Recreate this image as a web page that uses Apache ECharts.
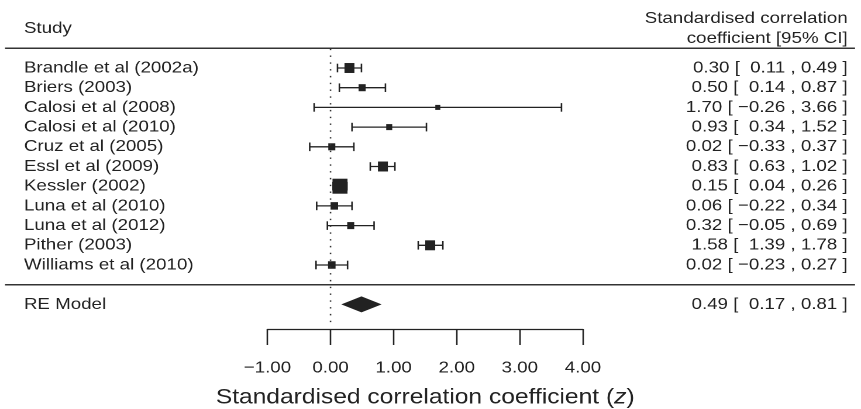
<!DOCTYPE html>
<html>
<head>
<meta charset="utf-8">
<script src="https://cdn.jsdelivr.net/npm/echarts@6/dist/echarts.min.js"></script>
<style>
html,body{margin:0;padding:0;background:#fff;overflow:hidden;}
#wrap{width:736px;height:409px;transform:scaleX(1.16984);transform-origin:0 0;}
#chart{width:736px;height:409px;}
</style>
</head>
<body>
<div id="wrap"><div id="chart"></div></div>
<script>
// ---- data ----
const studies = ["Brandle et al (2002a)","Briers (2003)","Calosi et al (2008)","Calosi et al (2010)","Cruz et al (2005)","Essl et al (2009)","Kessler (2002)","Luna et al (2010)","Luna et al (2012)","Pither (2003)","Williams et al (2010)"];
const est = [0.30,0.50,1.70,0.93,0.02,0.83,0.15,0.06,0.32,1.58,0.02];
const lo  = [0.11,0.14,-0.26,0.34,-0.33,0.63,0.04,-0.22,-0.05,1.39,-0.23];
const hi  = [0.49,0.87,3.66,1.52,0.37,1.02,0.26,0.34,0.69,1.78,0.27];
const weights = [11.1,7.4,4.8,6.1,7.4,11.1,17.5,8.0,7.4,11.1,8.0];
const studyRows = [13,12,11,10,9,8,7,6,5,4,3];
const pooledLabel = "RE Model";
const pooled = {est:0.49, lo:0.17, hi:0.81, row:1};
const headerRow = 15;
const leftHeader = "Study";
const rightHeader = "Standardised correlation\ncoefficient [95% CI]";
const xMin = -1, xMax = 4, xStep = 1;
const refLineRows = [0.1, 14];
const ruleRows = [14, 2];
const xTitle = "{n|Standardised correlation coefficient (}{it|z}{n|)}";

// ---- helpers ----
const SX = 1.16984; // horizontal stretch applied by CSS
const INK = '#222';
const FONT = 'Liberation Sans';
const minus = s => s.replace('-', '\u2212');
function fmtCol(arr){
  const anyNeg = arr.some(v => v < 0);
  return arr.map(v => {
    const s = minus(v.toFixed(2));
    return (anyNeg && v >= 0) ? ' ' + s : s;
  });
}
const allEst = est.concat([pooled.est]);
const allLo = lo.concat([pooled.lo]);
const allHi = hi.concat([pooled.hi]);
const fe = fmtCol(allEst), fl = fmtCol(allLo), fh = fmtCol(allHi);
const ciText = allEst.map((_, i) => fe[i] + ' [ ' + fl[i] + ' , ' + fh[i] + ' ]');

const leftMap = {}, rightMap = {};
studyRows.forEach((r, i) => { leftMap[r] = studies[i]; rightMap[r] = ciText[i]; });
leftMap[pooled.row] = pooledLabel; rightMap[pooled.row] = ciText[studies.length];
leftMap[headerRow] = leftHeader; rightMap[headerRow] = rightHeader;

const wMin = Math.min(...weights), wMax = Math.max(...weights);
const studyData = studyRows.map((r, i) => [r, est[i], lo[i], hi[i], weights[i]]);

const chart = echarts.init(document.getElementById('chart'), null, {devicePixelRatio: 2});

const gridLeft = 228.6, gridRight = 237.7, gridTop = 28.6, gridBottom = 84.9;

const option = {
  animation: false,
  textStyle: {fontFamily: FONT, color: INK},
  grid: {left: gridLeft, right: gridRight, top: gridTop, bottom: gridBottom, containLabel: false, outerBoundsMode: 'none'},
  xAxis: {
    type: 'value', min: xMin, max: xMax, interval: xStep, position: 'bottom', offset: 4.9,
    axisLine: {show: true, onZero: false, lineStyle: {color: INK, width: 1.3}},
    axisTick: {show: true, inside: false, length: 16, lineStyle: {color: INK, width: 1.3}},
    axisLabel: {fontSize: 16, color: INK, fontFamily: FONT, margin: 31, formatter: v => minus(v.toFixed(2))},
    splitLine: {show: false},
    name: xTitle, nameLocation: 'middle', nameGap: 58,
    nameTextStyle: {fontSize: 21, color: INK, fontFamily: FONT,
      rich: {
        n: {fontSize: 21, color: INK, fontFamily: FONT},
        it: {fontStyle: 'italic', fontSize: 21, color: INK, fontFamily: FONT}
      }}
  },
  yAxis: [
    {
      type: 'value', min: 0, max: headerRow, interval: 1, position: 'left',
      axisLine: {show: false}, axisTick: {show: false}, splitLine: {show: false},
      axisLabel: {show: true, showMaxLabel: true, showMinLabel: true, align: 'left', margin: gridLeft - 20.5, fontSize: 16, color: INK, fontFamily: FONT,
        formatter: v => leftMap[v] || ''}
    },
    {
      type: 'value', min: 0, max: headerRow, interval: 1, position: 'right',
      axisLine: {show: false}, axisTick: {show: false}, splitLine: {show: false},
      axisLabel: {show: true, showMaxLabel: true, showMinLabel: true, align: 'right', margin: 226.3, fontSize: 16, lineHeight: 20, color: INK, fontFamily: FONT,
        formatter: v => rightMap[v] || ''}
    }
  ],
  series: [
    {
      type: 'line', xAxisIndex: 0, yAxisIndex: 0, symbol: 'none', silent: true,
      data: refLineRows.map(r => [0, r]),
      lineStyle: {color: '#333', width: 1.3, type: [1.4, 5.4]}
    },
    {
      type: 'custom', xAxisIndex: 0, yAxisIndex: 0, silent: true, clip: false,
      data: studyData,
      renderItem: function (params, api) {
        const y = api.coord([0, api.value(0)])[1];
        const xe = api.coord([api.value(1), 0])[0];
        const xl = api.coord([api.value(2), 0])[0];
        const xh = api.coord([api.value(3), 0])[0];
        const w = api.value(4);
        const size = 5 + 10 * (w - wMin) / (wMax - wMin);
        const capH = 4.3;
        const ls = {stroke: INK, lineWidth: 1.3};
        return {
          type: 'group',
          children: [
            {type: 'line', shape: {x1: xl, y1: y, x2: xh, y2: y}, style: ls},
            {type: 'line', shape: {x1: xl, y1: y - capH, x2: xl, y2: y + capH}, style: ls},
            {type: 'line', shape: {x1: xh, y1: y - capH, x2: xh, y2: y + capH}, style: ls},
            {type: 'rect', shape: {x: xe - size / SX / 2, y: y - size / 2, width: size / SX, height: size}, style: {fill: INK}}
          ]
        };
      }
    },
    {
      type: 'custom', xAxisIndex: 0, yAxisIndex: 0, silent: true, clip: false,
      data: [[pooled.row, pooled.est, pooled.lo, pooled.hi]],
      renderItem: function (params, api) {
        const y = api.coord([0, api.value(0)])[1];
        const xe = api.coord([api.value(1), 0])[0];
        const xl = api.coord([api.value(2), 0])[0];
        const xh = api.coord([api.value(3), 0])[0];
        const h = 8;
        return {
          type: 'polygon',
          shape: {points: [[xl, y], [xe, y - h], [xh, y], [xe, y + h]]},
          style: {fill: INK}
        };
      }
    }
  ]
};
chart.setOption(option);

// horizontal rules spanning the full plot width
const ruleY = ruleRows.map(r => chart.convertToPixel({yAxisIndex: 0}, r));
chart.setOption({
  graphic: ruleY.map(y => ({
    type: 'line', silent: true,
    shape: {x1: 4.3, y1: y, x2: 730.9, y2: y},
    style: {stroke: '#333', lineWidth: 1.5}
  }))
});
</script>
</body>
</html>
